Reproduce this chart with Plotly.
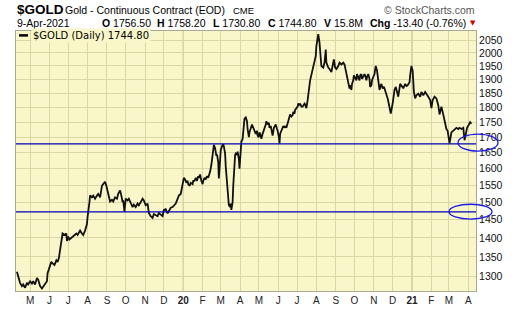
import math
import plotly.graph_objects as go

# ---------------- data ----------------
dates = [
    "2019-04-10", "2019-04-13", "2019-04-15", "2019-04-18", "2019-04-20", "2019-04-23", "2019-04-26", "2019-04-28",
    "2019-05-01", "2019-05-04", "2019-05-06", "2019-05-09", "2019-05-12", "2019-05-14", "2019-05-17", "2019-05-20",
    "2019-05-22", "2019-05-25", "2019-05-28", "2019-05-29",
    "2019-06-01", "2019-06-04", "2019-06-06", "2019-06-09", "2019-06-12", "2019-06-14", "2019-06-16", "2019-06-18",
    "2019-06-20", "2019-06-22", "2019-06-25", "2019-06-28", "2019-06-29",
    "2019-07-01", "2019-07-03", "2019-07-06", "2019-07-08", "2019-07-11", "2019-07-14", "2019-07-16", "2019-07-18",
    "2019-07-20", "2019-07-23", "2019-07-25", "2019-07-28", "2019-07-30", "2019-07-31",
    "2019-08-01", "2019-08-03", "2019-08-04", "2019-08-05", "2019-08-08", "2019-08-10", "2019-08-13", "2019-08-16",
    "2019-08-18", "2019-08-21", "2019-08-24", "2019-08-26", "2019-08-29", "2019-08-31",
    "2019-09-02", "2019-09-04", "2019-09-06", "2019-09-09", "2019-09-11", "2019-09-14", "2019-09-17", "2019-09-19",
    "2019-09-22", "2019-09-24", "2019-09-26", "2019-09-27", "2019-09-29",
    "2019-10-01", "2019-10-04", "2019-10-06", "2019-10-09", "2019-10-12", "2019-10-14", "2019-10-17", "2019-10-20",
    "2019-10-22", "2019-10-25", "2019-10-28", "2019-10-30",
    "2019-11-02", "2019-11-05", "2019-11-07", "2019-11-10", "2019-11-13", "2019-11-15", "2019-11-18", "2019-11-21",
    "2019-11-23", "2019-11-26", "2019-11-29",
    "2019-12-01", "2019-12-04", "2019-12-07", "2019-12-09", "2019-12-12", "2019-12-15", "2019-12-17", "2019-12-20",
    "2019-12-22", "2019-12-24", "2019-12-25", "2019-12-28", "2019-12-30",
    "2020-01-01", "2020-01-02", "2020-01-04", "2020-01-06", "2020-01-08", "2020-01-09", "2020-01-11", "2020-01-13",
    "2020-01-16", "2020-01-17", "2020-01-19", "2020-01-21", "2020-01-23", "2020-01-25", "2020-01-26", "2020-01-28",
    "2020-01-30",
    "2020-02-01", "2020-02-02", "2020-02-04", "2020-02-06", "2020-02-08", "2020-02-10", "2020-02-11", "2020-02-13",
    "2020-02-15", "2020-02-16", "2020-02-18", "2020-02-19", "2020-02-21", "2020-02-23", "2020-02-24", "2020-02-26",
    "2020-02-27", "2020-02-29",
    "2020-03-01", "2020-03-03", "2020-03-05", "2020-03-06", "2020-03-08", "2020-03-09", "2020-03-11", "2020-03-13",
    "2020-03-14", "2020-03-16", "2020-03-17", "2020-03-18", "2020-03-20", "2020-03-21", "2020-03-23", "2020-03-24",
    "2020-03-25", "2020-03-27", "2020-03-28", "2020-03-30", "2020-03-31",
    "2020-04-02", "2020-04-03", "2020-04-05", "2020-04-06", "2020-04-07", "2020-04-08", "2020-04-10", "2020-04-12",
    "2020-04-13", "2020-04-15", "2020-04-16", "2020-04-18", "2020-04-20", "2020-04-21", "2020-04-23", "2020-04-24",
    "2020-04-26", "2020-04-28", "2020-04-29",
    "2020-05-01", "2020-05-02", "2020-05-04", "2020-05-05", "2020-05-07", "2020-05-09", "2020-05-10", "2020-05-12",
    "2020-05-13", "2020-05-15", "2020-05-17", "2020-05-18", "2020-05-20", "2020-05-21", "2020-05-23", "2020-05-25",
    "2020-05-26", "2020-05-28", "2020-05-30", "2020-05-31",
    "2020-06-02", "2020-06-03", "2020-06-04", "2020-06-06", "2020-06-08", "2020-06-09", "2020-06-11", "2020-06-12",
    "2020-06-14", "2020-06-16", "2020-06-17", "2020-06-19", "2020-06-20", "2020-06-22", "2020-06-24", "2020-06-25",
    "2020-06-27", "2020-06-28", "2020-06-30",
    "2020-07-02", "2020-07-03", "2020-07-05", "2020-07-06", "2020-07-08", "2020-07-10", "2020-07-11", "2020-07-13",
    "2020-07-14", "2020-07-16", "2020-07-18", "2020-07-19", "2020-07-21", "2020-07-22", "2020-07-24", "2020-07-26",
    "2020-07-27", "2020-07-29", "2020-07-31",
    "2020-08-01", "2020-08-03", "2020-08-04", "2020-08-06", "2020-08-08", "2020-08-09", "2020-08-12", "2020-08-14",
    "2020-08-16", "2020-08-17", "2020-08-20", "2020-08-22", "2020-08-25", "2020-08-28", "2020-08-29", "2020-08-31",
    "2020-09-02", "2020-09-05", "2020-09-07", "2020-09-10", "2020-09-13", "2020-09-15", "2020-09-17", "2020-09-19",
    "2020-09-21", "2020-09-23", "2020-09-24", "2020-09-26", "2020-09-27", "2020-09-29", "2020-09-30",
    "2020-10-02", "2020-10-04", "2020-10-05", "2020-10-07", "2020-10-09", "2020-10-10", "2020-10-12", "2020-10-13",
    "2020-10-15", "2020-10-17", "2020-10-18", "2020-10-20", "2020-10-21", "2020-10-23", "2020-10-25", "2020-10-26",
    "2020-10-28", "2020-10-29", "2020-10-31",
    "2020-11-02", "2020-11-03", "2020-11-04", "2020-11-06", "2020-11-07", "2020-11-09", "2020-11-10", "2020-11-12",
    "2020-11-13", "2020-11-15", "2020-11-17", "2020-11-18", "2020-11-20", "2020-11-21", "2020-11-23", "2020-11-24",
    "2020-11-26", "2020-11-28",
    "2020-12-01", "2020-12-04", "2020-12-06", "2020-12-08", "2020-12-10", "2020-12-13", "2020-12-16", "2020-12-18",
    "2020-12-21", "2020-12-23", "2020-12-25", "2020-12-28", "2020-12-29", "2020-12-31",
    "2021-01-02", "2021-01-03", "2021-01-04", "2021-01-06", "2021-01-08", "2021-01-11", "2021-01-14", "2021-01-16",
    "2021-01-19", "2021-01-22", "2021-01-24", "2021-01-27", "2021-01-30",
    "2021-02-01", "2021-02-03", "2021-02-06", "2021-02-09", "2021-02-12", "2021-02-14", "2021-02-17", "2021-02-19",
    "2021-02-22", "2021-02-24", "2021-02-25", "2021-02-27",
    "2021-03-02", "2021-03-05", "2021-03-08", "2021-03-10", "2021-03-13", "2021-03-16", "2021-03-18", "2021-03-21",
    "2021-03-24", "2021-03-26", "2021-03-28", "2021-03-30",
    "2021-04-02", "2021-04-04", "2021-04-06",
]

prices = [
    1312, 1296, 1284, 1276, 1280, 1272, 1284, 1280,
    1288, 1282, 1288, 1280, 1296, 1292, 1276, 1270,
    1274, 1280, 1288, 1308,
    1320, 1337, 1333, 1329, 1341, 1337, 1346, 1367,
    1396, 1412, 1408, 1412, 1392,
    1404, 1396, 1400, 1404, 1408, 1412, 1408, 1416,
    1420, 1412, 1408, 1420, 1429, 1438,
    1458, 1481, 1500, 1520, 1514, 1519, 1510, 1519,
    1524, 1514, 1548, 1553, 1560, 1548,
    1529, 1510, 1502, 1507, 1502, 1514, 1510, 1524,
    1534, 1519, 1500, 1505, 1473,
    1510, 1505, 1510, 1500, 1486, 1493, 1486, 1496,
    1491, 1500, 1510, 1505,
    1491, 1496, 1469, 1460, 1455, 1466, 1464, 1460,
    1469, 1464, 1460,
    1478, 1480, 1468, 1474, 1484, 1486, 1491, 1496,
    1505, 1514, 1519, 1524, 1543,
    1563, 1572, 1567, 1557, 1563, 1553, 1548, 1557,
    1553, 1563, 1563, 1572, 1563, 1577, 1572, 1582,
    1563,
    1553, 1563, 1572, 1567, 1577, 1572, 1577, 1591,
    1612, 1637, 1658, 1675, 1664, 1640, 1645, 1620,
    1570, 1627,
    1658, 1671, 1677, 1670, 1647, 1607, 1548, 1519,
    1491, 1486, 1496, 1478, 1500, 1548, 1627, 1643,
    1647, 1643, 1653, 1630, 1600,
    1675, 1685, 1695, 1731, 1753, 1762, 1766, 1753,
    1727, 1700, 1716, 1731, 1742, 1737, 1727, 1716,
    1711, 1721, 1705,
    1700, 1716, 1705, 1695, 1711, 1721, 1727, 1742,
    1753, 1742, 1748, 1731, 1737, 1721, 1705, 1731,
    1737, 1742, 1727, 1721,
    1700, 1680, 1711, 1721, 1727, 1737, 1731, 1737,
    1731, 1742, 1753, 1769, 1776, 1769, 1774, 1785,
    1779, 1792, 1798,
    1803, 1814, 1808, 1814, 1803, 1803, 1806, 1814,
    1811, 1798, 1826, 1855, 1879, 1897, 1915, 1933,
    1950, 1969, 1988,
    2026, 2050, 2073, 2040, 1994, 1950, 1944, 1963,
    2013, 1963, 1944, 1939, 1927, 1969, 1975, 1944,
    1939, 1950, 1963, 1956, 1963, 1956, 1933, 1902,
    1879, 1867, 1879, 1862, 1884, 1897, 1915,
    1902, 1897, 1920, 1909, 1897, 1915, 1920, 1902,
    1909, 1920, 1915, 1897, 1909, 1920, 1902, 1873,
    1879, 1897, 1909,
    1920, 1937, 1950, 1933, 1915, 1867, 1862, 1879,
    1884, 1867, 1873, 1867, 1855, 1849, 1832, 1822,
    1795, 1779,
    1814, 1862, 1873, 1855, 1838, 1884, 1873, 1868,
    1884, 1876, 1879, 1890, 1915, 1950,
    1933, 1890, 1855, 1832, 1843, 1849, 1838, 1855,
    1843, 1855, 1849, 1838, 1826,
    1798, 1826, 1838, 1832, 1808, 1776, 1803, 1785,
    1758, 1731, 1727, 1721,
    1680, 1716, 1721, 1727, 1731, 1727, 1731, 1727,
    1731, 1690, 1711, 1731,
    1742, 1750, 1744.80,
]

symbol = "$GOLD"
description = "Gold - Continuous Contract (EOD)"
exchange = "CME"
as_of = "9-Apr-2021"
quote_labels = ["O", "H", "L", "C", "V", "Chg"]
quote_values = ["1756.50", "1758.20", "1730.80", "1744.80", "15.8M", "-13.40 (-0.76%)"]
legend_text = "$GOLD (Daily) 1744.80"
watermark = "\u00a9 StockCharts.com"

support_levels = [1678, 1472]
circle_levels = [(1655, 1710), (1452, 1494)]

y_ticks = [1300, 1350, 1400, 1450, 1500, 1550, 1600, 1650, 1700, 1750, 1800, 1850, 1900, 1950, 2000, 2050]
month_ticks = [
    "2019-05-01", "2019-06-01", "2019-07-01", "2019-08-01", "2019-09-01", "2019-10-01", "2019-11-01", "2019-12-01",
    "2020-01-01", "2020-02-01", "2020-03-01", "2020-04-01", "2020-05-01", "2020-06-01", "2020-07-01", "2020-08-01",
    "2020-09-01", "2020-10-01", "2020-11-01", "2020-12-01", "2021-01-01", "2021-02-01", "2021-03-01", "2021-04-01",
]
month_labels = ["M", "J", "J", "A", "S", "O", "N", "D", "20", "F", "M", "A", "M", "J", "J", "A",
                "S", "O", "N", "D", "21", "F", "M", "A"]

# ---------------- layout helpers ----------------
W, H = 520, 318
L, R, T, B = 16, 476, 31, 298


def px(x):
    return (x - L) / (R - L)


def py(y):
    return 1 - (y - T) / (B - T)


PLOT_BG = "#F9F7C9"
GRID = "#D9D7A4"
YEAR_GRID = "#B5B585"
BORDER = "#A9A892"
SANS = "Liberation Sans, Arial, sans-serif"

fig = go.Figure()
fig.add_trace(go.Scatter(x=dates, y=prices, mode="lines",
                         line=dict(color="#111111", width=1.8),
                         showlegend=False, hoverinfo="x+y"))

ticktext = [f"<b>{t}</b>" if t.isdigit() else t for t in month_labels]

fig.update_layout(
    width=W, height=H,
    margin=dict(l=L, r=W - R, t=T, b=H - B, pad=0),
    paper_bgcolor="white",
    plot_bgcolor=PLOT_BG,
    font=dict(family=SANS, size=10, color="#222222"),
    showlegend=False,
    xaxis=dict(
        type="date",
        range=["2019-04-08 12:00", "2021-04-13 08:00"],
        tickvals=month_ticks, ticktext=ticktext,
        showgrid=True, gridcolor=GRID, gridwidth=1,
        showline=True, linecolor=BORDER, linewidth=1, mirror=True,
        ticks="", tickfont=dict(family=SANS, size=10, color="#222222"),
        zeroline=False, fixedrange=True,
    ),
    yaxis=dict(
        type="log", side="right",
        range=[math.log10(1264), math.log10(2086)],
        tickvals=y_ticks, ticktext=[str(v) for v in y_ticks],
        showgrid=True, gridcolor=GRID, gridwidth=1,
        showline=True, linecolor=BORDER, linewidth=1, mirror=True,
        ticks="", tickfont=dict(family=SANS, size=10.5, color="#111111"),
        zeroline=False, fixedrange=True,
    ),
)

shapes = []
# year separators (darker vertical grid lines)
for d, lab in zip(month_ticks, month_labels):
    if lab.isdigit():
        shapes.append(dict(type="line", xref="x", yref="paper", x0=d, x1=d, y0=0, y1=1,
                           line=dict(color=YEAR_GRID, width=1), layer="below"))
# horizontal support lines
for lvl in support_levels:
    shapes.append(dict(type="line", xref="paper", yref="y", x0=0, x1=1, y0=lvl, y1=lvl,
                       line=dict(color="#0000B4", width=1.2), layer="above"))
# circled areas
for (lo, hi), (xa, xb) in zip(circle_levels, [(458, 498), (449, 492)]):
    shapes.append(dict(type="circle", xref="paper", yref="y", x0=px(xa), x1=px(xb), y0=lo, y1=hi,
                       line=dict(color="#1a1ae6", width=1.3), layer="above"))
# legend dash
shapes.append(dict(type="line", xref="paper", yref="paper", x0=px(19), x1=px(28), y0=py(35.5), y1=py(35.5),
                   line=dict(color="black", width=2.5), layer="above"))
fig.update_layout(shapes=shapes)

ann = []
ann.append(dict(text=f"<b>{symbol}</b>", x=px(15), y=py(9), xref="paper", yref="paper",
                xanchor="left", yanchor="middle", showarrow=False,
                font=dict(family=SANS, size=13.5, color="black")))
ann.append(dict(text=description, x=px(63), y=py(9), xref="paper", yref="paper",
                xanchor="left", yanchor="middle", showarrow=False,
                font=dict(family=SANS, size=10.5, color="black")))
ann.append(dict(text=exchange, x=px(231), y=py(9.5), xref="paper", yref="paper",
                xanchor="left", yanchor="middle", showarrow=False,
                font=dict(family=SANS, size=9.5, color="black")))
ann.append(dict(text=watermark, x=px(477), y=py(9), xref="paper", yref="paper",
                xanchor="right", yanchor="middle", showarrow=False,
                font=dict(family=SANS, size=10.5, color="#555555")))
ann.append(dict(text=as_of, x=px(15), y=py(23), xref="paper", yref="paper",
                xanchor="left", yanchor="middle", showarrow=False,
                font=dict(family=SANS, size=10.5, color="black")))
for lab, val, xpos in zip(quote_labels, quote_values, [100, 155, 211, 266, 322, 368]):
    ann.append(dict(text=f"<b>{lab}</b> {val}", x=px(xpos), y=py(23), xref="paper", yref="paper",
                    xanchor="left", yanchor="middle", showarrow=False,
                    font=dict(family=SANS, size=10.5, color="black")))
ann.append(dict(text="\u25bc", x=px(472.5), y=py(23), xref="paper", yref="paper",
                xanchor="center", yanchor="middle", showarrow=False,
                font=dict(family="DejaVu Sans", size=7, color="#CC0000")))
ann.append(dict(text=legend_text, x=px(31), y=py(36), xref="paper", yref="paper",
                xanchor="left", yanchor="middle", showarrow=False, bgcolor=PLOT_BG, borderpad=1,
                font=dict(family="DejaVu Sans, Verdana, sans-serif", size=10, color="black")))
fig.update_layout(annotations=ann)

fig.write_html("out.html")
